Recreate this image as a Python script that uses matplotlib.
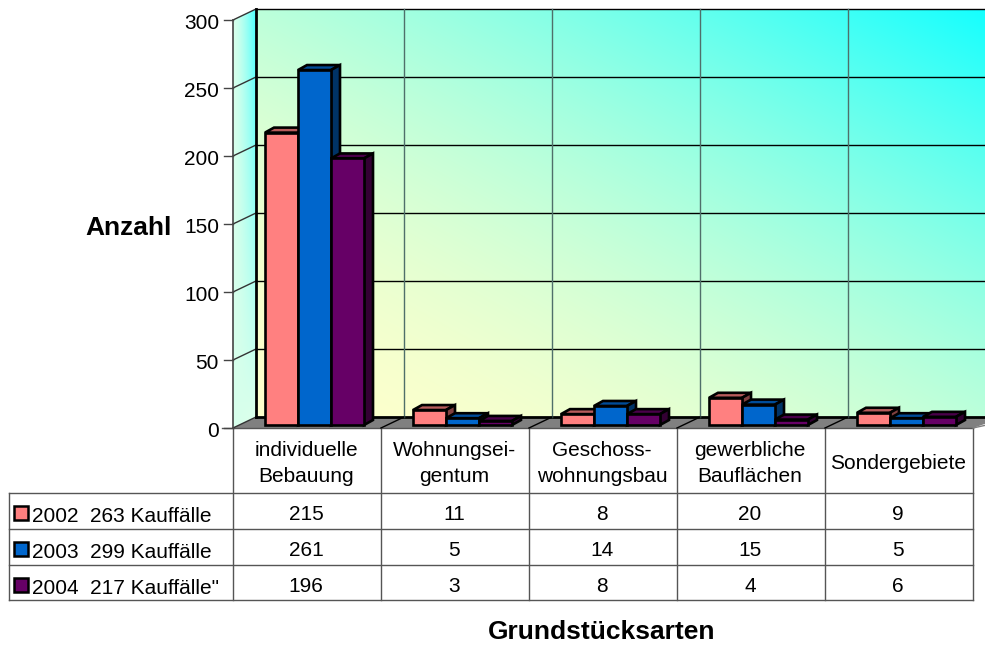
import numpy as np
import matplotlib
matplotlib.use("Agg")
from matplotlib import pyplot as plt
from matplotlib.patches import Polygon, Rectangle

plt.rcParams['font.family'] = ['Liberation Sans', 'DejaVu Sans']

categories = ["individuelle\nBebauung", "Wohnungsei-\ngentum", "Geschoss-\nwohnungsbau",
              "gewerbliche\nBauflächen", "Sondergebiete"]
series_names = ["2002  263 Kauffälle", "2003  299 Kauffälle", "2004  217 Kauffälle\""]
values_2002 = [215, 11, 8, 20, 9]
values_2003 = [261, 5, 14, 15, 5]
values_2004 = [196, 3, 8, 4, 6]
yticks = [0, 50, 100, 150, 200, 250, 300]

series = [values_2002, values_2003, values_2004]
front = ['#FF8080', '#0066CC', '#660066']
top = ['#B85C5C', '#004C99', '#4A004A']
side = ['#804040', '#003366', '#330033']

W, H = 985, 646
CAT_PX = 148.0     # one category
VAL_PX = 1.36      # one unit of the value axis
X0, Y0 = 233, 428  # front corner of the plot
DX, DY = 23, 11    # depth of the box
BDX, BDY = 9, 5    # depth of a bar
TXT = 15.0


def px_y(v):
    return Y0 - v*VAL_PX


fig = plt.figure(figsize=(W/100, H/100), dpi=100)

# pixel axes for walls and table
bg = fig.add_axes([0, 0, 1, 1])
bg.axis('off')

# walls with gradient
yy, xx = np.mgrid[0:H, 0:W]
t = np.clip(((xx-X0-DX)/(W-X0-DX) + (Y0-DY-yy)/(300*VAL_PX))/2, 0, 1)**1.8
low = np.array([255, 255, 204])/255
high = np.array([20, 255, 255])/255
img = low + (high-low)*t[..., None]
wall = bg.imshow(img, extent=(0, W, H, 0), interpolation='bilinear', zorder=1)
wall.set_clip_path(Rectangle((X0+DX, px_y(300)-DY), W-X0-DX, 300*VAL_PX,
                             transform=bg.transData))

s = np.clip((xx-X0)/DX, 0, 1)**1.5
v = np.clip((Y0-yy)/(300*VAL_PX), 0, 1)
right_col = np.array([225, 255, 235])/255 + (np.array([70, 255, 255])-np.array([225, 255, 235]))[None, None]/255*v[..., None]
left_col = np.array([215, 255, 235])/255
img2 = left_col + (right_col-left_col)*s[..., None]
sidewall = bg.imshow(img2, extent=(0, W, H, 0), interpolation='bilinear', zorder=1)
sidewall.set_clip_path(Polygon([(X0, px_y(0)), (X0+DX, px_y(0)-DY), (X0+DX, px_y(300)-DY), (X0, px_y(300))],
                               transform=bg.transData))

# floor
bg.add_patch(Polygon([(X0, Y0), (X0+DX, Y0-DY), (W+20, Y0-DY), (X0+5*CAT_PX, Y0)],
                     fc='#808080', ec='none', zorder=2))

# table
line = dict(color='#555555', lw=1.0, zorder=3)
rows = [493, 529, 565, 600]
cols = [X0 + i*CAT_PX for i in range(6)]
bg.plot([X0, cols[-1]], [Y0, Y0], **line)
bg.plot([222, X0], [Y0, Y0], **line)
for r in rows:
    bg.plot([9, cols[-1]], [r, r], **line)
for c in cols:
    bg.plot([c, c], [Y0, rows[-1]], **line)
bg.plot([9, 9], [rows[0], rows[-1]], **line)
bg.plot([cols[-1], W+20], [Y0, Y0-7], color='#808080', lw=1, zorder=3)

for i, cat in enumerate(categories):
    bg.text(cols[i]+CAT_PX/2-1, 463.5, cat, ha='center', va='center', fontsize=TXT,
            linespacing=1.5, zorder=4)
for r, (name, vals) in enumerate(zip(series_names, series)):
    cy = rows[r] + 18.5
    bg.add_patch(Rectangle((14, cy-6), 14, 14, fc=front[r], ec='black', lw=1.8, zorder=4))
    bg.text(32, cy+5, name, ha='left', va='center', fontsize=TXT, zorder=4)
    for i, val in enumerate(vals):
        bg.text(cols[i]+CAT_PX/2-1, cy+3, str(val), ha='center', va='center', fontsize=TXT, zorder=4)

bg.text(129, 228, "Anzahl", ha='center', va='center', fontsize=19, fontweight='bold', zorder=4)
bg.text(602, 632, "Grundstücksarten", ha='center', va='center', fontsize=19, fontweight='bold', zorder=4)

bg.set_xlim(0, W)
bg.set_ylim(H, 0)

# value axes on top: x in categories, y in Anzahl
ax = fig.add_axes([0, 0, 1, 1], zorder=2)
ax.axis('off')
ax.patch.set_alpha(0)
ax.set_xlim(-X0/CAT_PX, (W-X0)/CAT_PX)
ax.set_ylim((Y0-H)/VAL_PX, Y0/VAL_PX)

dx = DX/CAT_PX
dy = DY/VAL_PX
bdx = BDX/CAT_PX
bdy = BDY/VAL_PX
ax_right = (W-X0)/CAT_PX

# grid
for val in yticks:
    ax.plot([dx, ax_right], [val+dy, val+dy], color='black', lw=1.0 if val else 2.0, zorder=1)
    ax.plot([0, dx], [val, val+dy], color='#333333', lw=1.0, zorder=1)
    ax.plot([-9/CAT_PX, 0], [val, val], color='#444444', lw=1.0, zorder=1)
    ax.text(-14/CAT_PX, val-2.5, str(val), ha='right', va='center', fontsize=TXT, zorder=1)
for i in range(1, 5):
    ax.plot([i+dx, i+dx], [dy, 300+dy], color='#4F6F6A', lw=1.0, zorder=1)
    ax.plot([i, i+dx], [0, dy], color='black', lw=1.0, zorder=1)
ax.plot([dx, dx], [dy, 300+dy], color='black', lw=2.0, zorder=1)
ax.plot([0, 0], [0, 300], color='#444444', lw=1.2, zorder=1)

# bars
bar_w = 33/CAT_PX
bar_off = 32/CAT_PX
base = 2.2
edge = dict(ec='black', lw=1.9, joinstyle='miter')
for i in range(len(categories)):
    for j in range(len(series)):
        xl = i + bar_off + j*bar_w
        xr = xl + bar_w
        ht = base + series[j][i]
        z = 3 + j
        ax.add_patch(Polygon([(xl, ht), (xr, ht), (xr+bdx, ht+bdy), (xl+bdx, ht+bdy)],
                             fc=top[j], zorder=z, **edge))
        ax.add_patch(Polygon([(xr, base), (xr+bdx, base+bdy), (xr+bdx, ht+bdy), (xr, ht)],
                             fc=side[j], zorder=z, **edge))
        ax.add_patch(Rectangle((xl, base), bar_w, series[j][i], fc=front[j], zorder=z+0.5, **edge))

fig.savefig('out.png', dpi=100)
